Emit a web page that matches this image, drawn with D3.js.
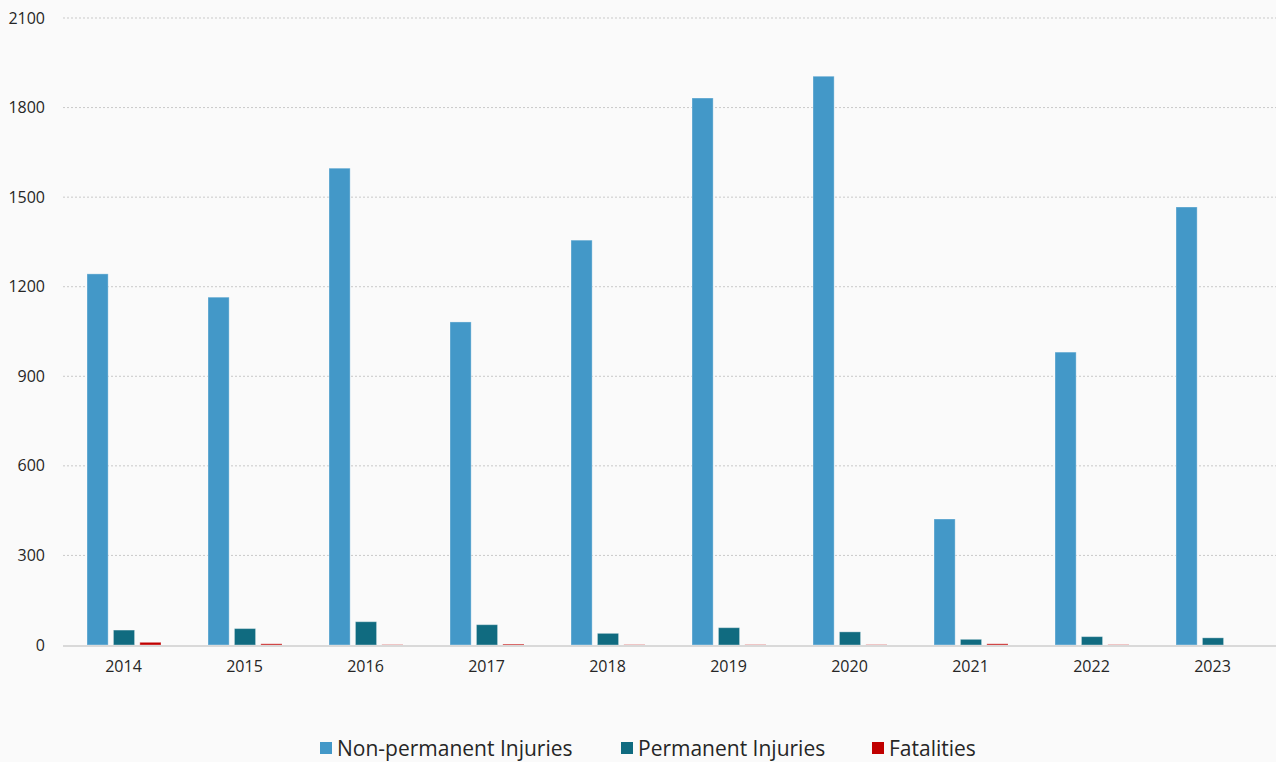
<!DOCTYPE html>
<html>
<head>
<meta charset="utf-8">
<script src="https://cdn.jsdelivr.net/npm/d3@7"></script>
<style>
  html, body { margin: 0; padding: 0; background: #fafafa; }
  svg { display: block; font-family: "Open Sans", "Lato", sans-serif; }
</style>
</head>
<body>
<svg id="chart" width="1276" height="762"></svg>
<script>
// Yearly injury and fatality counts
const years = ["2014", "2015", "2016", "2017", "2018", "2019", "2020", "2021", "2022", "2023"];
const nonPermanent = [1243, 1165, 1597, 1082, 1356, 1832, 1905, 422, 981, 1467];
const permanent = [50, 55, 78, 68, 39, 58, 44, 19, 28, 24];
const fatalities = [9, 4, 1, 3, 1, 1, 1, 4, 1, 0];
const yTicks = [0, 300, 600, 900, 1200, 1500, 1800, 2100];

const seriesNames = ["Non-permanent Injuries", "Permanent Injuries", "Fatalities"];
const seriesColors = ["#4398c8", "#106b80", "#c00000"];
const seriesValues = [nonPermanent, permanent, fatalities];

const svg = d3.select("#chart");
const margin = { left: 63, right: 3, top: 18, bottom: 117 };
const width = 1276, height = 762;
const textColor = "#262626";

const x = d3.scaleBand().domain(years).range([margin.left, width - margin.right]).paddingInner(0).paddingOuter(0);
const inner = d3.scaleBand().domain(d3.range(seriesNames.length)).range([24, x.bandwidth() - 23]).paddingInner(0.2);
const y = d3.scaleLinear().domain([0, 2100]).range([height - margin.bottom, margin.top]);

// horizontal dotted gridlines
svg.append("g")
  .selectAll("line")
  .data(yTicks.filter(d => d > 0))
  .join("line")
  .attr("x1", margin.left).attr("x2", width)
  .attr("y1", d => y(d)).attr("y2", d => y(d))
  .attr("stroke", "#c9c9c9").attr("stroke-width", 1)
  .attr("stroke-dasharray", "2,2");

// y-axis labels
const yAxis = d3.axisLeft(y).tickValues(yTicks).tickFormat(d3.format("d")).tickSize(0).tickPadding(0);
svg.append("g")
  .attr("transform", "translate(45,0)")
  .call(yAxis)
  .call(g => g.select(".domain").remove())
  .selectAll("text")
  .attr("font-size", 16)
  .attr("fill", textColor)
  .attr("font-family", "'Open Sans', sans-serif");

// bars
const groups = svg.append("g")
  .selectAll("g")
  .data(years)
  .join("g")
  .attr("transform", d => `translate(${x(d)},0)`);

groups.selectAll("rect")
  .data((d, i) => seriesValues.map((vals, s) => ({ s, v: vals[i] })))
  .join("rect")
  .attr("x", d => inner(d.s))
  .attr("width", inner.bandwidth())
  .attr("y", d => y(d.v))
  .attr("height", d => y(0) - y(d.v))
  .attr("fill", d => seriesColors[d.s])
  .attr("stroke", "rgba(255,255,255,0.35)")
  .attr("stroke-width", 1);

// baseline
svg.append("line")
  .attr("x1", margin.left).attr("x2", width)
  .attr("y1", y(0) + 1).attr("y2", y(0) + 1)
  .attr("stroke", "#d9d9d9").attr("stroke-width", 2);

// x-axis labels
const xAxis = d3.axisBottom(x).tickSize(0).tickPadding(0);
svg.append("g")
  .attr("transform", `translate(0,${y(0) + 16})`)
  .call(xAxis)
  .call(g => g.select(".domain").remove())
  .selectAll("text")
  .attr("font-size", 16)
  .attr("fill", textColor)
  .attr("font-family", "'Open Sans', sans-serif");

// legend
const legendX = [320, 621, 872];
const legend = svg.append("g")
  .selectAll("g")
  .data(seriesNames)
  .join("g")
  .attr("transform", (d, i) => `translate(${legendX[i]},742)`);
legend.append("rect")
  .attr("width", 12).attr("height", 12)
  .attr("fill", (d, i) => seriesColors[i]);
legend.append("text")
  .attr("x", 17).attr("y", 6)
  .attr("dy", "0.36em")
  .attr("font-size", 21)
  .attr("fill", textColor)
  .text(d => d);
</script>
</body>
</html>
